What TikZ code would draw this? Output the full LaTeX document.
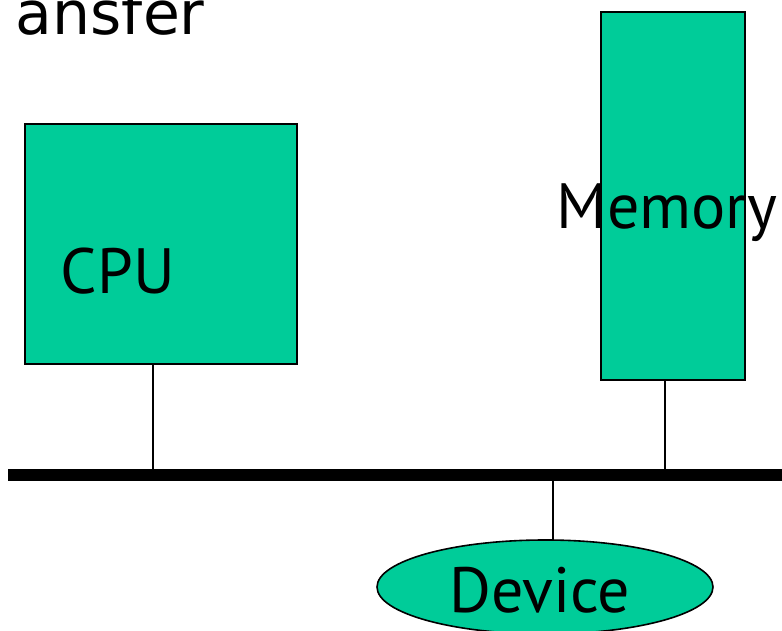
\documentclass[tikz,border=0pt]{standalone}
\usepackage{fontspec}
\setmainfont{PT Sans}
\newfontfamily\titlefont{DejaVu Sans}
\usepackage{xcolor}
\usetikzlibrary{shapes.geometric, positioning}
\definecolor{unitfill}{RGB}{0,204,153}

\begin{document}
\begin{tikzpicture}[x=0.5pt, y=-0.5pt,
  every node/.style={inner sep=0pt},
  unit/.style={draw, line width=1pt, fill=unitfill, rectangle},
  dev/.style={draw, line width=0.8pt, fill=unitfill, ellipse},
  lbl/.style={font=\fontsize{32}{38}\selectfont, anchor=base},
  tap/.style={line width=1pt},
  bus/.style={line width=6pt}]
\useasboundingbox (0,0) rectangle (782,631);
\clip (0,0) rectangle (782,631);
\node[font=\titlefont\fontsize{30}{36}\selectfont, anchor=base east] (title)
  at (205,35) {ansfer};
% bus and taps
\coordinate (busL) at (8,475);
\coordinate (busR) at (782,475);
\coordinate (cputap) at (153,469);
\coordinate (memtap) at (665,469);
\coordinate (devtap) at (553,481);
\draw[bus] (busL) -- (busR);
% units
\node[unit, minimum width=136pt, minimum height=120pt] (cpu) at (161,244) {};
\node[lbl] (cpulbl) at (118,293) {CPU};
\node[unit, minimum width=72pt, minimum height=184pt] (mem) at (673,196) {};
\node[lbl] (memlbl) at (667,228) {Memory};
\draw[tap] (cpu.south -| cputap) -- (cputap);
\draw[tap] (mem.south -| memtap) -- (memtap);
\draw[tap] (devtap) -- (devtap |- 0,541);
\node[dev, minimum width=168pt, minimum height=47pt] (dev) at (545,587) {};
\node[lbl] (devlbl) at (540,612) {Device};
\end{tikzpicture}
\end{document}
